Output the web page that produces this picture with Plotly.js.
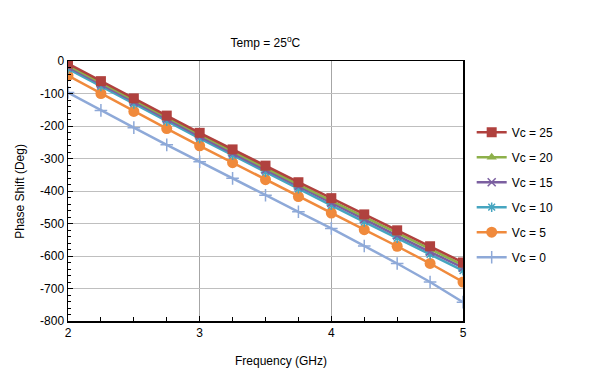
<!DOCTYPE html>
<html><head><meta charset="utf-8">
<script src="https://cdn.plot.ly/plotly-3.0.1.min.js"></script>
<style>body{margin:0;background:#fff}#c{width:595px;height:379px}</style>
</head><body><div id="c"></div>
<script>
const freq = [2,2.25,2.5,2.75,3,3.25,3.5,3.75,4,4.25,4.5,4.75,5];
const vc25 = [-8,-62,-115,-168,-221,-272,-322,-373,-422,-472,-521,-570,-620];
const vc20 = [-13,-67,-120,-173,-226,-278,-329,-380,-430,-480,-529,-578,-628];
const vc15 = [-18,-72,-126,-179,-232,-284,-335,-386,-437,-487,-537,-587,-636];
const vc10 = [-24,-78,-132,-185,-238,-290,-342,-393,-444,-495,-545,-595,-645];
const vc5  = [-45,-100,-155,-208,-261,-313,-365,-417,-468,-519,-570,-623,-680];
const vc0  = [-97,-152,-205,-258,-310,-361,-413,-464,-515,-569,-623,-680,-742];
const names = ['Vc = 25','Vc = 20','Vc = 15','Vc = 10','Vc = 5','Vc = 0'];
const yTickVals = [0,-100,-200,-300,-400,-500,-600,-700,-800];
const yTickText = ['0','-100','-200','-300','-400','-500','-600','-700','-800'];
const xTickVals = [2,3,4,5];
const xTickText = ['2','3','4','5'];

const styles = [
  {c:'#B0413E', s:'square', z:10, lw:0},
  {c:'#8DB04A', s:'triangle-up', z:9, lw:0},
  {c:'#7B5FA0', s:'x-thin-open', z:8, lw:1.5},
  {c:'#46A5C0', s:'asterisk-open', z:8, lw:1.5},
  {c:'#F08A3C', s:'circle', z:11, lw:0},
  {c:'#8EA9D8', s:'cross-thin-open', z:9, lw:1.5}
];
const series = [vc25, vc20, vc15, vc10, vc5, vc0];
const traces = series.map((y,i)=>({
  x: freq, y: y, name: names[i], type:'scatter', mode:'lines+markers',
  legendrank: i+1, legendgroup: 'g'+i,
  line:{color:styles[i].c, width:2.5},
  marker:{symbol:styles[i].s, size:styles[i].z, color:styles[i].c, line:{color:styles[i].c, width:styles[i].lw}}
}));
// draw in reverse so Vc=25 on top
const ordered = traces.slice().reverse();

const layout = {
  width:595, height:379,
  margin:{l:68, r:132, t:61, b:58},
  paper_bgcolor:'#fff', plot_bgcolor:'#fff',
  font:{family:'Liberation Sans, Arial, sans-serif', size:12, color:'#000'},
  showlegend:true,
  legend:{x:1.022, y:0.782, xanchor:'left', yanchor:'top', traceorder:'grouped', tracegroupgap:6, font:{size:12}, bgcolor:'rgba(0,0,0,0)'},
  title:{text:'Temp = 25<sup>o</sup>C', x:0.446, xanchor:'center', y:0.888, yanchor:'middle', font:{size:12}},
  xaxis:{range:[2,5], tickvals:xTickVals, ticktext:xTickText, showgrid:true, gridcolor:'#A6A6A6', gridwidth:1,
    showline:true, linecolor:'#000', linewidth:1.5, mirror:true, ticks:'inside', ticklen:5, tickcolor:'#000',
    minor:{dtick:0.25, tick0:2, ticks:'inside', ticklen:4, tickcolor:'#000', showgrid:false},
    zeroline:false, tickfont:{size:12}, fixedrange:true},
  yaxis:{range:[-800,0], tickvals:yTickVals, ticktext:yTickText, showgrid:true, gridcolor:'#BFBFBF', gridwidth:1,
    showline:true, linecolor:'#000', linewidth:1.5, mirror:true, ticks:'inside', ticklen:5, tickcolor:'#000',
    minor:{dtick:20, tick0:0, ticks:'inside', ticklen:3, tickcolor:'#000', showgrid:false},
    zeroline:false, tickfont:{size:12}, fixedrange:true},
  annotations:[
    {text:'Frequency (GHz)', xref:'paper', yref:'paper', x:0.54, y:-0.155, xanchor:'center', yanchor:'middle', showarrow:false, font:{size:12}},
    {text:'Phase Shift (Deg)', xref:'paper', yref:'paper', x:-0.122, y:0.5, xanchor:'center', yanchor:'middle', textangle:-90, showarrow:false, font:{size:12}}
  ]
};
Plotly.newPlot('c', ordered, layout, {displayModeBar:false, staticPlot:true});
</script></body></html>
